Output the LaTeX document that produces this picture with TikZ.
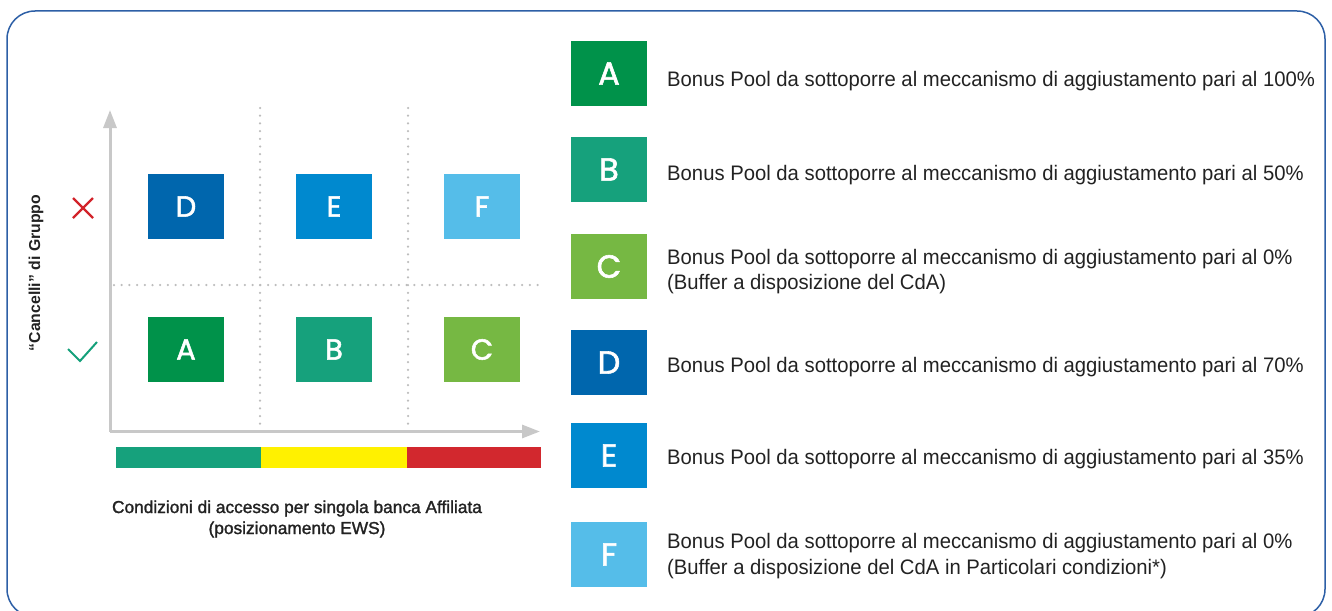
\documentclass[tikz,border=0pt]{standalone}
\usepackage{fontspec}
\setmainfont{Liberation Sans}
\newfontfamily\letterfont[FakeBold=1.8]{Poppins}
\newfontfamily\descfont[FakeStretch=0.965]{Liberation Sans}
\newfontfamily\medfont[FakeBold=1.5]{Liberation Sans}
\usetikzlibrary{arrows.meta}
\definecolor{cA}{HTML}{00924A}
\definecolor{cB}{HTML}{16A17C}
\definecolor{cC}{HTML}{76B843}
\definecolor{cD}{HTML}{0066AD}
\definecolor{cE}{HTML}{0089CF}
\definecolor{cF}{HTML}{55BDE9}
\definecolor{frame}{HTML}{2D5FA6}
\definecolor{axisgray}{HTML}{C8C8C8}
\definecolor{dotgray}{HTML}{BDBDBD}
\definecolor{txt}{HTML}{222222}
\definecolor{barG}{HTML}{16A17C}
\definecolor{barY}{HTML}{FFF100}
\definecolor{barR}{HTML}{D2282E}
\definecolor{crossred}{HTML}{D2232A}
\definecolor{checkgreen}{HTML}{14A07A}
\begin{document}
\begin{tikzpicture}[x=1pt,y=-1pt,
  lbox/.style={minimum width=76pt, minimum height=65pt, inner sep=0pt, text=white, font=\letterfont\fontsize{29}{29}\selectfont},
  rbox/.style={lbox, font=\letterfont\fontsize{32}{32}\selectfont},
  axis/.style={draw=axisgray, line width=3pt, -{Triangle[width=13pt,length=18pt]}},
  gridline/.style={draw=dotgray, line width=2.5pt, line cap=round, dash pattern=on 0pt off 7.7pt},
  desc/.style={anchor=base west, inner sep=0pt, text=txt, font=\descfont\fontsize{21}{26}\selectfont},
  caption/.style={anchor=base, inner sep=0pt, text=txt, font=\medfont\fontsize{17.3}{21}\selectfont},
  signline/.style={line width=2.2pt}
]
\useasboundingbox (0,0) rectangle (1332,610);
\clip (0,0) rectangle (1332,610);
\draw[frame, line width=1.5pt, rounded corners=28pt] (7,11) rectangle (1325,617);

% grid
\coordinate (v1t) at (260,108); \coordinate (v1b) at (260,430);
\coordinate (v2t) at (408,108); \coordinate (v2b) at (408,430);
\coordinate (hl) at (114,285); \coordinate (hr) at (542,285);
\draw[gridline] (v1t) -- (v1b);
\draw[gridline] (v2t) -- (v2b);
\draw[gridline] (hl) -- (hr);

% axes
\coordinate (o) at (110,431.5);
\coordinate (ytip) at (110,110);
\coordinate (xtip) at (540,431.5);
\draw[axis] (o) -- (ytip);
\draw[axis] (o) -- (xtip);

% boxes
\node[lbox, fill=cD] (D) at (186,206.5) {D};
\node[lbox, fill=cE] (E) at (334,206.5) {E};
\node[lbox, fill=cF] (F) at (482,206.5) {F};
\node[lbox, fill=cA] (A) at (186,349.5) {A};
\node[lbox, fill=cB] (B) at (334,349.5) {B};
\node[lbox, fill=cC] (C) at (482,349.5) {C};

% marks
\coordinate (x1) at (73,198); \coordinate (x2) at (93,218);
\coordinate (x3) at (93,198); \coordinate (x4) at (73,218);
\draw[signline, crossred] (x1) -- (x2) (x3) -- (x4);
\coordinate (c1) at (68,349); \coordinate (c2) at (80,361); \coordinate (c3) at (97,342);
\draw[signline, checkgreen, line width=2pt] (c1) -- (c2) -- (c3);

% y label
\node[rotate=90, anchor=base, inner sep=0pt, text=txt, font=\bfseries\fontsize{15.8}{18}\selectfont] (ylab) at (40,273) {“Cancelli” di Gruppo};

% color bar
\fill[barG] (116,447) rectangle (261,468);
\fill[barY] (261,447) rectangle (407,468);
\fill[barR] (407,447) rectangle (541,468);

% caption
\node[caption] (cap1) at (297,513) {Condizioni di accesso per singola banca Affiliata};
\node[caption] (cap2) at (297,534) {(posizionamento EWS)};

% legend
\node[rbox, fill=cA] (lA) at (609,73.5) {A};
\node[rbox, fill=cB] (lB) at (609,169.5) {B};
\node[rbox, fill=cC] (lC) at (609,266.5) {C};
\node[rbox, fill=cD] (lD) at (609,362.5) {D};
\node[rbox, fill=cE] (lE) at (609,455.5) {E};
\node[rbox, fill=cF] (lF) at (609,554.5) {F};

\node[desc] (tA) at (667,86) {Bonus Pool da sottoporre al meccanismo di aggiustamento pari al 100\%};
\node[desc] (tB) at (667,180) {Bonus Pool da sottoporre al meccanismo di aggiustamento pari al 50\%};
\node[desc] (tC1) at (667,264) {Bonus Pool da sottoporre al meccanismo di aggiustamento pari al 0\%};
\node[desc] (tC2) at (667,289) {(Buffer a disposizione del CdA)};
\node[desc] (tD) at (667,372) {Bonus Pool da sottoporre al meccanismo di aggiustamento pari al 70\%};
\node[desc] (tE) at (667,464) {Bonus Pool da sottoporre al meccanismo di aggiustamento pari al 35\%};
\node[desc] (tF1) at (667,548) {Bonus Pool da sottoporre al meccanismo di aggiustamento pari al 0\%};
\node[desc] (tF2) at (667,574) {(Buffer a disposizione del CdA in Particolari condizioni*)};
\end{tikzpicture}
\end{document}
